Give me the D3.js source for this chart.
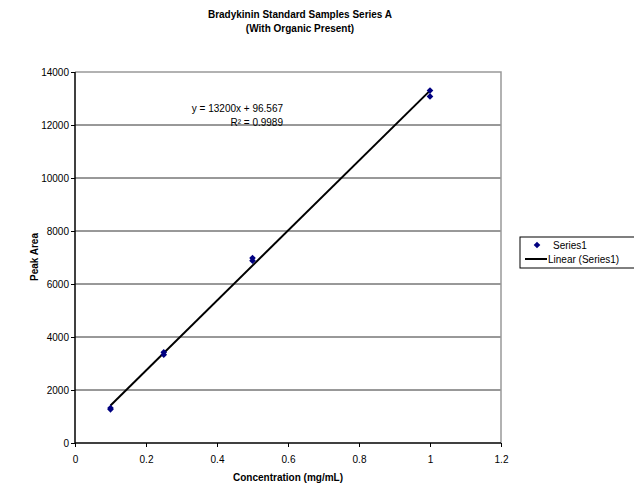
<!DOCTYPE html>
<html>
<head>
<meta charset="utf-8">
<script src="https://cdn.jsdelivr.net/npm/d3@7"></script>
<style>
  body { margin:0; background:#fff; }
  svg { font-family: "Liberation Sans", Arial, sans-serif; }
</style>
</head>
<body>
<svg id="chart" width="634" height="488"></svg>
<script>
// data
var concX = [0.1, 0.1, 0.25, 0.25, 0.5, 0.5, 1, 1];
var peakArea = [1270, 1320, 3330, 3420, 6880, 6980, 13080, 13300];
var xTicks = [0, 0.2, 0.4, 0.6, 0.8, 1, 1.2];
var yTicks = [0, 2000, 4000, 6000, 8000, 10000, 12000, 14000];
var trendSlope = 13200, trendIntercept = 96.567;
var trendText = ["y = 13200x + 96.567", "R² = 0.9989"];

var s = d3.select("#chart");
var L = 75, R = 501, T = 72, B = 443;

var x = d3.scaleLinear().domain([0, 1.2]).range([L, R]);
var y = d3.scaleLinear().domain([0, 14000]).range([B, T]);

// gridlines
s.append("g").selectAll("line").data(yTicks.filter(function(d){return d>0 && d<14000}))
  .enter().append("line")
  .attr("x1", L).attr("x2", R)
  .attr("y1", function(d){return y(d)}).attr("y2", function(d){return y(d)})
  .attr("stroke", "#333").attr("stroke-width", 1);

// plot border top/right
s.append("path").attr("d", "M"+L+","+T+"H"+R+"V"+B)
  .attr("fill", "none").attr("stroke", "#999").attr("stroke-width", 1.5);

// axes
var xAxis = s.append("g").attr("transform", "translate(0,"+B+")")
  .call(d3.axisBottom(x).tickValues(xTicks).tickSize(4).tickPadding(9).tickFormat(d3.format("")));
var yAxis = s.append("g").attr("transform", "translate("+L+",0)")
  .call(d3.axisLeft(y).tickValues(yTicks).tickSize(4).tickPadding(2).tickFormat(d3.format("d")));
[xAxis, yAxis].forEach(function(a){
  a.select(".domain").attr("stroke", "#000").attr("stroke-width", 1.5);
  a.selectAll(".tick line").attr("stroke", "#000");
  a.selectAll("text").attr("font-size", "10px").attr("fill", "#000")
    .attr("font-family", "'Liberation Sans', Arial, sans-serif");
});
xAxis.select(".domain").attr("d", "M"+L+",0H"+R);
yAxis.select(".domain").attr("d", "M0,"+T+"V"+B);

// trend line over data range
var xr = d3.extent(concX);
s.append("line")
  .attr("x1", x(xr[0])).attr("y1", y(trendSlope*xr[0]+trendIntercept))
  .attr("x2", x(xr[1])).attr("y2", y(trendSlope*xr[1]+trendIntercept))
  .attr("stroke", "#000").attr("stroke-width", 2);

// points (square turned 45deg = excel diamond)
var diamond = d3.symbol().type(d3.symbolSquare).size(22);
s.append("g").selectAll("path").data(concX).enter().append("path")
  .attr("d", diamond)
  .attr("transform", function(d,i){return "translate("+x(d)+","+y(peakArea[i])+") rotate(45)"})
  .attr("fill", "#000080");

// trend label
s.append("g").selectAll("text").data(trendText).enter().append("text")
  .attr("x", 283).attr("y", function(d,i){return 112+i*14})
  .attr("text-anchor", "end").attr("font-size", "10px")
  .text(function(d){return d});

// titles
s.append("text").attr("x", 300).attr("y", 18).attr("text-anchor", "middle")
  .attr("font-size", "10px").attr("font-weight", "bold").text("Bradykinin Standard Samples Series A");
s.append("text").attr("x", 300).attr("y", 32).attr("text-anchor", "middle")
  .attr("font-size", "10px").attr("font-weight", "bold").text("(With Organic Present)");
s.append("text").attr("x", 288).attr("y", 481).attr("text-anchor", "middle")
  .attr("font-size", "10px").attr("font-weight", "bold").text("Concentration (mg/mL)");
s.append("text").attr("transform", "translate(38,257) rotate(-90)").attr("text-anchor", "middle")
  .attr("font-size", "10px").attr("font-weight", "bold").text("Peak Area");

// legend
var lg = s.append("g");
lg.append("rect").attr("x", 520).attr("y", 237).attr("width", 120).attr("height", 31)
  .attr("fill", "#fff").attr("stroke", "#000").attr("stroke-width", 1);
lg.append("path").attr("d", diamond).attr("transform", "translate(537,245) rotate(45)").attr("fill", "#000080");
lg.append("text").attr("x", 553).attr("y", 249).attr("font-size", "10px").text("Series1");
lg.append("line").attr("x1", 525).attr("x2", 547).attr("y1", 259).attr("y2", 259)
  .attr("stroke", "#000").attr("stroke-width", 2);
lg.append("text").attr("x", 548).attr("y", 263).attr("font-size", "10px").text("Linear (Series1)");
</script>
</body>
</html>
